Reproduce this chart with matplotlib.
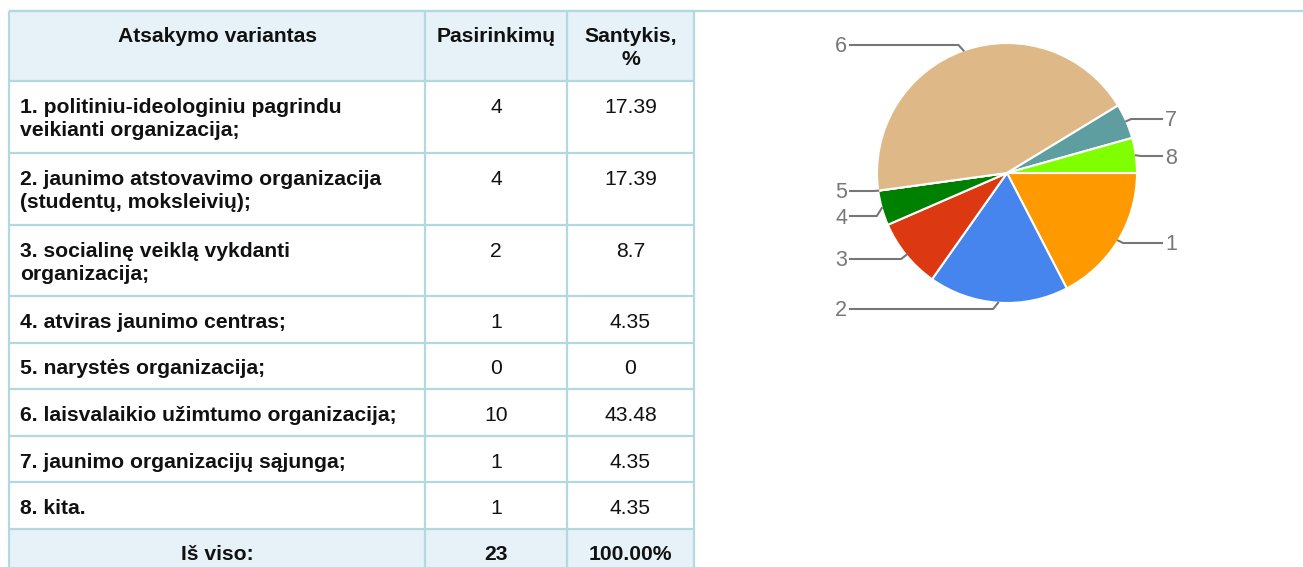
import numpy as np
import matplotlib
matplotlib.use('Agg')
import matplotlib.pyplot as plt
from matplotlib.patches import Rectangle

# apklausos duomenys
options = [
  ['1. politiniu-ideologiniu pagrindu', 'veikianti organizacija;'],
  ['2. jaunimo atstovavimo organizacija', '(studentų, moksleivių);'],
  ['3. socialinę veiklą vykdanti', 'organizacija;'],
  ['4. atviras jaunimo centras;'],
  ['5. narystės organizacija;'],
  ['6. laisvalaikio užimtumo organizacija;'],
  ['7. jaunimo organizacijų sąjunga;'],
  ['8. kita.'],
]
counts = [4, 4, 2, 1, 0, 10, 1, 1]
shares = ['17.39', '17.39', '8.7', '4.35', '0', '43.48', '4.35', '4.35']
slice_labels = ['1', '2', '3', '4', '5', '6', '7', '8']
slice_colors = ['#ff9900', '#4684ee', '#dc3912', '#008000', '#666666',
                '#deb887', '#5f9ea0', '#80ff00']
headers = [['Atsakymo variantas'], ['Pasirinkimų'], ['Santykis,', '%']]
total_row = ['Iš viso:', str(sum(counts)), '100.00%']

W, H = 1303, 567
border = '#b4d8e0'
shade = '#e6f2f8'
fs = 15.2

plt.rcParams['font.family'] = ['Liberation Sans', 'DejaVu Sans']

fig = plt.figure(figsize=(W / 100, H / 100), dpi=100)
ax = fig.add_axes([0, 0, 1, 1])

# --- lentelė ---
col_x = [9, 425, 567, 694]
top = 11
row_h = [70, 72, 72, 71, 46.5, 46.5, 46.5, 46.5, 46.5, 45]
row_y = np.concatenate([[top], top + np.cumsum(row_h)])

ax.add_patch(Rectangle((col_x[0], row_y[0]), col_x[-1] - col_x[0], row_h[0],
                       facecolor=shade, edgecolor='none'))
ax.add_patch(Rectangle((col_x[0], row_y[-2]), col_x[-1] - col_x[0], row_h[-1] + 10,
                       facecolor=shade, edgecolor='none'))

for y in row_y[:-1]:
  ax.plot([col_x[0], col_x[-1]], [y, y], color=border, lw=1.6, solid_capstyle='butt')
ax.plot([col_x[0], W], [top, top], color=border, lw=1.6, solid_capstyle='butt')
for x in col_x:
  ax.plot([x, x], [top, H + 5], color=border, lw=1.6, solid_capstyle='butt')

def cell_text(lines, x0, x1, y0, ha, weight, base=32):
  for i, line in enumerate(lines):
    if ha == 'left':
      tx = x0 + 11
    else:
      tx = (x0 + x1) / 2
    ax.text(tx, y0 + base + i * 23, line, ha=ha, va='baseline',
            fontsize=fs, fontweight=weight, color='#111111')

for j, hd in enumerate(headers):
  cell_text(hd, col_x[j], col_x[j + 1], row_y[0], 'center', 'bold', base=31)

for i in range(len(options)):
  y0 = row_y[i + 1]
  cell_text(options[i], col_x[0], col_x[1], y0, 'left', 'bold')
  cell_text([str(counts[i])], col_x[1], col_x[2], y0, 'center', 'normal')
  cell_text([shares[i]], col_x[2], col_x[3], y0, 'center', 'normal')

for j, t in enumerate(total_row):
  cell_text([t], col_x[j], col_x[j + 1], row_y[-2], 'center', 'bold')

# --- skritulinė diagrama ---
cx, cy, r = 1007, 173, 130
wedges, _ = ax.pie(counts, colors=slice_colors, startangle=0, counterclock=True,
                   center=(cx, cy), radius=r,
                   wedgeprops=dict(edgecolor='white', linewidth=1.5))

# etikečių išdėstymas: (y, pusė)
label_pos = {
  '1': (245, 'right'), '2': (311, 'left'), '3': (261, 'left'), '4': (218, 'left'),
  '5': (193, 'left'), '6': (47, 'left'), '7': (121, 'right'), '8': (158, 'right'),
}
gray = '#777777'
for w, lab in zip(wedges, slice_labels):
  mid = np.deg2rad((w.theta1 + w.theta2) / 2)
  ax_ = cx + r * np.cos(mid)
  ay_ = cy + r * np.sin(mid)
  ly, side = label_pos[lab]
  if side == 'left':
    xs = [ax_, ax_ - 5, 850]
    tx, ha = 847, 'right'
  else:
    xs = [ax_, ax_ + 5, 1162]
    tx, ha = 1165, 'left'
  ax.plot(xs, [ay_, ly - 2, ly - 2], color=gray, lw=1.5)
  ax.text(tx, ly, lab, ha=ha, va='center', fontsize=15.5, color=gray)

ax.set_xlim(0, W)
ax.set_ylim(H, 0)
ax.set_aspect('auto')
ax.axis('off')

fig.savefig('out.png', dpi=100)
